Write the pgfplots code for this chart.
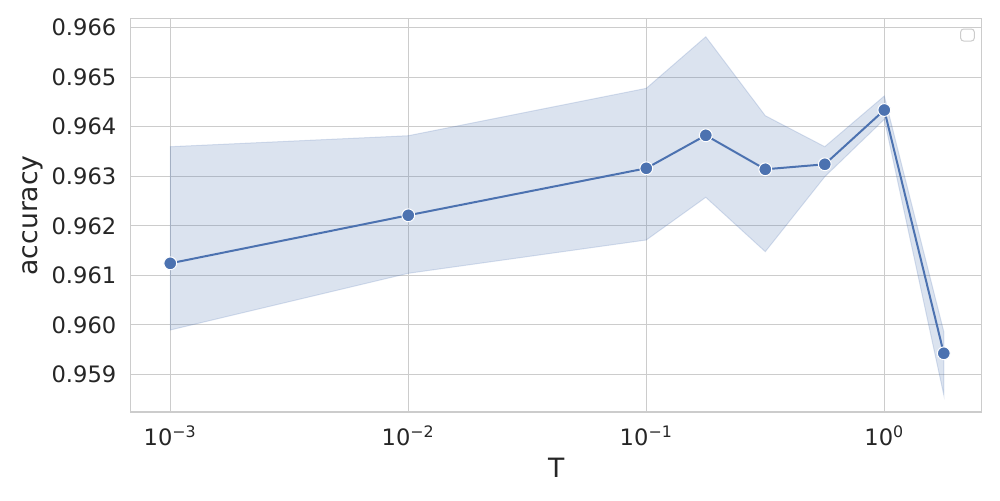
\documentclass[border=0pt]{standalone}
\usepackage{pgfplots}
\pgfplotsset{compat=1.18}
\usepackage{fontspec}
\setmainfont{DejaVu Sans}
\definecolor{c0}{HTML}{4C72B0}
\definecolor{gridc}{HTML}{CCCCCC}
\definecolor{txt}{HTML}{262626}
\begin{document}
\begin{tikzpicture}
\useasboundingbox (-65.35pt,-44pt) rectangle (434.65pt,206pt);
\begin{axis}[
  at={(0,0)}, anchor=south west, scale only axis,
  width=425.5pt, height=196.65pt,
  xmode=log, xmin=6.82e-4, xmax=2.566,
  ymin=0.958239, ymax=0.966182,
  xtick={0.001,0.01,0.1,1},
  xticklabels={10\textsuperscript{−3},10\textsuperscript{−2},10\textsuperscript{−1},10\textsuperscript{0}},
  minor xtick={}, minor ytick={},
  ytick={0.959,0.960,0.961,0.962,0.963,0.964,0.965,0.966},
  yticklabels={0.959,0.960,0.961,0.962,0.963,0.964,0.965,0.966},
  grid=major, major grid style={draw=gridc, line width=0.5pt},
  axis line style={draw=gridc, line width=0.65pt},
  tick style={draw=none},
  ticklabel style={font=\fontsize{11.3}{12}\selectfont, text=txt},
  xticklabel style={anchor=base, yshift=-16.5pt},
  yticklabel style={anchor=east, inner xsep=0pt, xshift=-7pt},
  xlabel={T}, ylabel={accuracy},
  label style={font=\fontsize{13.3}{14}\selectfont, text=txt},
  xlabel style={at={(axis description cs:0.5,0)}, anchor=center, yshift=-27.75pt},
  ylabel style={at={(axis description cs:0,0.5)}, anchor=center, yshift=49.1pt},
  clip=true,
]
% confidence band (upper left->right, lower right->left)
\addplot[fill=c0, fill opacity=0.2, draw=c0, draw opacity=0.2, line width=0.5pt] coordinates {
  (0.001,0.963597) (0.01,0.963819) (0.1,0.964776) (0.17783,0.965818)
  (0.31623,0.964223) (0.56234,0.963597) (1,0.964621) (1.77828,0.959861)
  (1.77828,0.958583) (1,0.964150) (0.56234,0.962991) (0.31623,0.961477)
  (0.17783,0.962575) (0.1,0.961713) (0.01,0.961040) (0.001,0.959895)
} -- cycle;
% mean line
\addplot[c0, line width=1pt, mark=*, mark size=3.2pt,
  mark options={fill=c0, draw=white, line width=0.5pt}] coordinates {
  (0.001,0.961242) (0.01,0.962212) (0.1,0.963161) (0.17783,0.963827)
  (0.31623,0.963141) (0.56234,0.963242) (1,0.964338) (1.77828,0.959425)
};
% empty legend box
\draw[draw=gridc, line width=0.5pt, fill=white, rounded corners=1.5pt]
  (rel axis cs:0.9753,0.9433) rectangle (rel axis cs:0.9913,0.9738);
\end{axis}
\end{tikzpicture}
\end{document}
